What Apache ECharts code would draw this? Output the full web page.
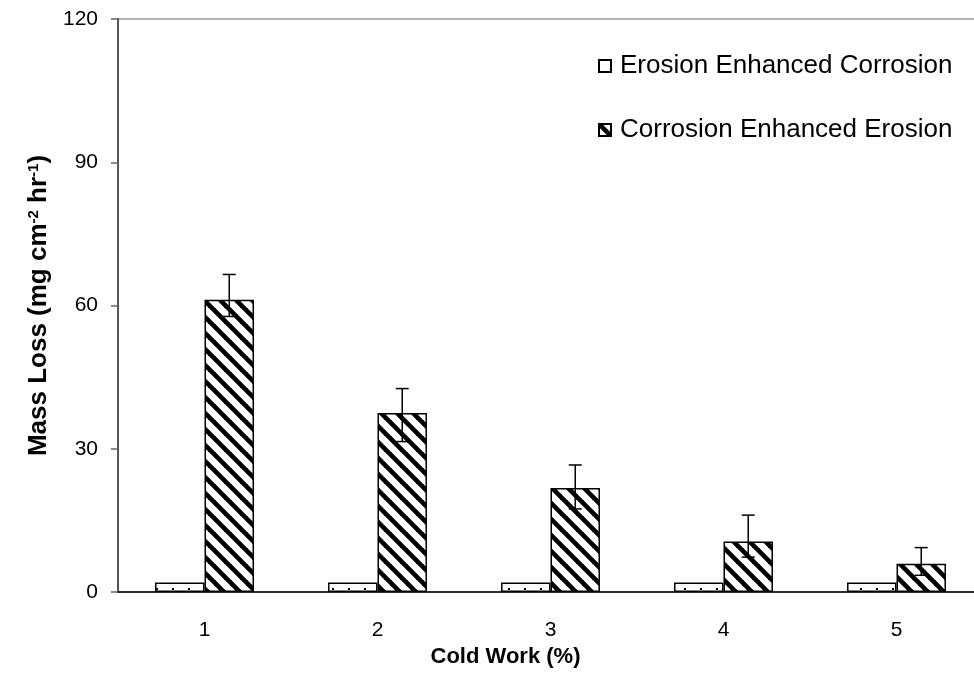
<!DOCTYPE html>
<html>
<head>
<meta charset="utf-8">
<script src="https://cdn.jsdelivr.net/npm/echarts@6/dist/echarts.min.js"></script>
<style>
  html, body { margin: 0; padding: 0; background: #fff; }
  #chart { width: 974px; height: 688px; }
</style>
</head>
<body>
<div id="chart"></div>
<script>
// Cold work levels (%)
const categories = ['1', '2', '3', '4', '5'];
// Mass loss components (mg cm^-2 hr^-1)
const erosionEnhancedCorrosion = [2, 2, 2, 2, 2];
const corrosionEnhancedErosion = [61.2, 37.5, 21.8, 10.6, 5.9];
// Error bar extents above / below the corrosion-enhanced-erosion mean
const errUpper = [5.3, 5.1, 4.8, 5.5, 3.4];
const errLower = [3.5, 6.0, 4.4, 3.3, 2.4];
// Value axis ticks
const yTicks = [0, 30, 60, 90, 120];

const FONT = '"Liberation Sans", Arial, sans-serif';
const BAR_FRAC = 0.286; // each bar's share of a category band

// Diagonal hatch fill ("\" stripes)
function hatchPattern() {
  const s = 16;
  const c = document.createElement('canvas');
  c.width = s; c.height = s;
  const ctx = c.getContext('2d');
  ctx.fillStyle = '#fff';
  ctx.fillRect(0, 0, s, s);
  ctx.strokeStyle = '#000';
  ctx.lineWidth = 4.6;
  for (const o of [-s, 0, s]) {
    ctx.beginPath();
    ctx.moveTo(o - 4, -4);
    ctx.lineTo(o + s + 4, s + 4);
    ctx.stroke();
  }
  return c;
}

// Sparse dot fill
function dotPattern() {
  const c = document.createElement('canvas');
  c.width = 16; c.height = 8;
  const ctx = c.getContext('2d');
  ctx.fillStyle = '#fff';
  ctx.fillRect(0, 0, 16, 8);
  ctx.fillStyle = '#000';
  ctx.fillRect(12, 4, 2, 2);
  return c;
}

const chart = echarts.init(document.getElementById('chart'), null, { renderer: 'canvas' });

const errorData = categories.map((c, i) => [i, corrosionEnhancedErosion[i], errLower[i], errUpper[i]]);

const option = {
  backgroundColor: '#fff',
  animation: false,
  grid: {
    left: 118, top: 19, width: 865, height: 573,
    outerBoundsMode: 'none',
    containLabel: false,
    show: true, borderColor: '#999', borderWidth: 1.5, backgroundColor: 'transparent'
  },
  legend: {
    data: ['Erosion Enhanced Corrosion', 'Corrosion Enhanced Erosion'],
    orient: 'vertical',
    left: 593, top: 48,
    itemGap: 38,
    itemWidth: 12, itemHeight: 12,
    icon: 'rect',
    textStyle: { fontFamily: FONT, fontSize: 26, color: '#000', padding: [0, 0, 0, 4] }
  },
  xAxis: {
    type: 'category',
    data: categories,
    name: 'Cold Work (%)',
    nameLocation: 'middle',
    nameGap: 54,
    nameTextStyle: { fontFamily: FONT, fontSize: 22, fontWeight: 'bold', color: '#000', padding: [0, 90, 0, 0] },
    axisLine: { lineStyle: { color: '#000', width: 1.5 } },
    axisTick: { length: 7, lineStyle: { color: '#555', width: 1.5 } },
    axisLabel: { fontFamily: FONT, fontSize: 21, color: '#000', margin: 28 }
  },
  yAxis: {
    type: 'value',
    min: yTicks[0], max: yTicks[yTicks.length - 1], interval: yTicks[1] - yTicks[0],
    name: '{b|Mass Loss (mg cm}{s|-2}{b| hr}{s|-1}{b|)}',
    nameLocation: 'middle',
    nameGap: 66,
    nameTextStyle: {
      color: '#000',
      rich: {
        b: { fontFamily: FONT, fontSize: 26, fontWeight: 'bold', color: '#000' },
        s: { fontFamily: FONT, fontSize: 15, fontWeight: 'bold', color: '#000', verticalAlign: 'top' }
      }
    },
    axisLine: { show: true, lineStyle: { color: '#555', width: 2 } },
    axisTick: { show: true, length: 7, lineStyle: { color: '#666', width: 1.5 } },
    axisLabel: { fontFamily: FONT, fontSize: 21, color: '#000', margin: 20 },
    splitLine: { show: false }
  },
  series: [
    {
      name: 'Erosion Enhanced Corrosion',
      type: 'bar',
      data: erosionEnhancedCorrosion,
      barWidth: (BAR_FRAC * 100) + '%',
      barGap: '0%',
      itemStyle: { color: { image: dotPattern(), repeat: 'repeat' }, borderColor: '#000', borderWidth: 1.5 }
    },
    {
      name: 'Corrosion Enhanced Erosion',
      type: 'bar',
      data: corrosionEnhancedErosion,
      barWidth: (BAR_FRAC * 100) + '%',
      barGap: '0%',
      itemStyle: { color: { image: hatchPattern(), repeat: 'repeat' }, borderColor: '#000', borderWidth: 1.5 }
    },
    {
      name: 'error',
      type: 'custom',
      z: 10,
      data: errorData,
      encode: { x: 0, y: 1 },
      renderItem: function (params, api) {
        const i = api.value(0), v = api.value(1), lo = api.value(2), hi = api.value(3);
        const band = api.size([1, 0])[0];
        const cx = api.coord([i, v])[0] + band * BAR_FRAC / 2;
        const yTop = api.coord([i, v + hi])[1];
        const yBot = api.coord([i, v - lo])[1];
        const cap = 6.5;
        const st = { stroke: '#000', lineWidth: 1.5 };
        return {
          type: 'group',
          children: [
            { type: 'line', shape: { x1: cx, y1: yTop, x2: cx, y2: yBot }, style: st },
            { type: 'line', shape: { x1: cx - cap, y1: yTop, x2: cx + cap, y2: yTop }, style: st },
            { type: 'line', shape: { x1: cx - cap, y1: yBot, x2: cx + cap, y2: yBot }, style: st }
          ]
        };
      }
    }
  ]
};

chart.setOption(option);
</script>
</body>
</html>
